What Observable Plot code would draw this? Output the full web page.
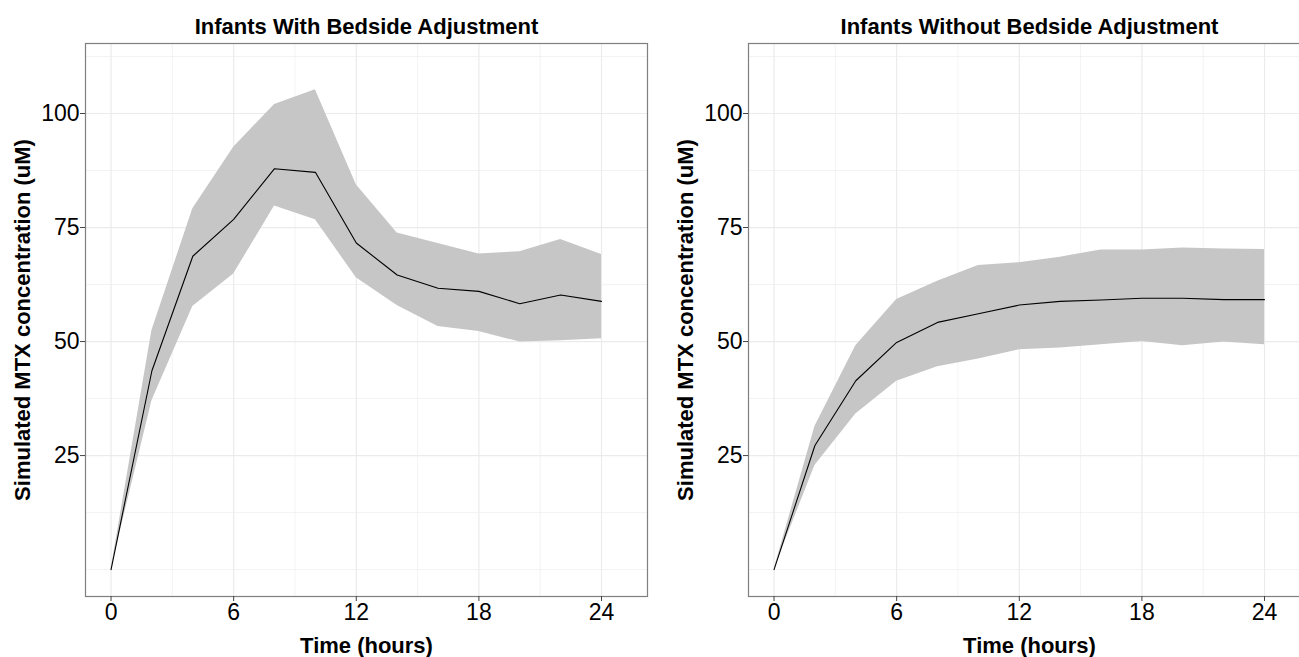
<!DOCTYPE html>
<html>
<head>
<meta charset="utf-8">
<script src="https://cdn.jsdelivr.net/npm/d3@7"></script>
<script src="https://cdn.jsdelivr.net/npm/@observablehq/plot@0.6"></script>
<style>
  html, body { margin: 0; padding: 0; background: #fff; overflow: hidden; }
  #wrap { position: relative; width: 1299px; height: 657px; overflow: hidden; background: #fff; }
  #wrap > div { position: absolute; top: 0; width: 660px; height: 657px; }
  #wrap svg { max-width: none !important; width: 660px; height: 657px; display: block; }
</style>
</head>
<body>
<div id="wrap"><div id="p1" style="left:0px"></div><div id="p2" style="left:663px"></div></div>
<script>
// ---- data ----
const hours = [0, 2, 4, 6, 8, 10, 12, 14, 16, 18, 20, 22, 24];

const withMid = [0, 43.6, 68.7, 76.8, 87.9, 87.1, 71.6, 64.6, 61.7, 61.0, 58.3, 60.2, 58.8];
const withLo  = [0, 37.0, 57.7, 64.8, 79.7, 76.7, 64.0, 57.9, 53.3, 52.2, 49.9, 50.2, 50.6];
const withHi  = [0, 52.4, 79.1, 92.6, 102.0, 105.2, 84.4, 73.8, 71.5, 69.2, 69.7, 72.4, 69.1];

const withoutMid = [0, 27.2, 41.4, 49.8, 54.2, 56.1, 58.0, 58.8, 59.1, 59.5, 59.5, 59.2, 59.2];
const withoutLo  = [0, 22.8, 34.1, 41.3, 44.5, 46.2, 48.2, 48.6, 49.3, 50.0, 49.1, 49.9, 49.3];
const withoutHi  = [0, 31.4, 49.1, 59.2, 63.2, 66.7, 67.3, 68.5, 70.1, 70.1, 70.5, 70.3, 70.2];

const panelTitles = ["Infants With Bedside Adjustment", "Infants Without Bedside Adjustment"];
const xTicks = [0, 6, 12, 18, 24];
const xMinor = [3, 9, 15, 21];
const yTicks = [25, 50, 75, 100];
const yMinor = [0, 12.5, 37.5, 62.5, 87.5, 112.5];
const xLabel = "Time (hours)";
const yLabel = "Simulated MTX concentration (uM)";

function panel(title, mid, lo, hi) {
  const data = hours.map((t, i) => ({t, mid: mid[i], lo: lo[i], hi: hi[i]}));
  return Plot.plot({
    width: 660,
    height: 657,
    marginLeft: 85,
    marginRight: 13,
    marginTop: 43,
    marginBottom: 61,
    style: {fontFamily: "'Liberation Sans', Arial, sans-serif", fontSize: "22px", background: "white", color: "black", maxWidth: "none"},
    x: {domain: [-1.25, 26.25]},
    y: {domain: [-5.9, 115.35]},
    marks: [
      Plot.gridY(yMinor, {stroke: "#ebebeb", strokeOpacity: 1, strokeWidth: 0.6}),
      Plot.gridX(xMinor, {stroke: "#ebebeb", strokeOpacity: 1, strokeWidth: 0.6}),
      Plot.gridY(yTicks, {stroke: "#ebebeb", strokeOpacity: 1, strokeWidth: 1.2}),
      Plot.gridX(xTicks, {stroke: "#ebebeb", strokeOpacity: 1, strokeWidth: 1.2}),
      Plot.areaY(data, {x: "t", y1: "lo", y2: "hi", fill: "#c6c6c6", fillOpacity: 1}),
      Plot.lineY(data, {x: "t", y: "mid", stroke: "black", strokeWidth: 1.1}),
      Plot.frame({stroke: "#7f7f7f", strokeWidth: 1.2}),
      Plot.axisX(xTicks, {tickSize: 5, tickPadding: 2, stroke: "#444", fill: "black", label: null, fontSize: 23}),
      Plot.axisY(yTicks, {tickSize: 5, tickPadding: 1, stroke: "#444", fill: "black", label: null, fontSize: 23}),
      Plot.text([title], {frameAnchor: "top", dy: -17, lineAnchor: "middle", textAnchor: "middle", fontWeight: "bold", fontSize: 22, fill: "black"}),
      Plot.text([xLabel], {frameAnchor: "bottom", dy: 49, lineAnchor: "middle", textAnchor: "middle", fontWeight: "bold", fontSize: 22, fill: "black"}),
      Plot.text([yLabel], {frameAnchor: "left", dx: -63, rotate: -90, lineAnchor: "middle", textAnchor: "middle", fontWeight: "bold", fontSize: 22, fill: "black"})
    ]
  });
}

document.getElementById("p1").appendChild(panel(panelTitles[0], withMid, withLo, withHi));
document.getElementById("p2").appendChild(panel(panelTitles[1], withoutMid, withoutLo, withoutHi));
</script>
</body>
</html>
